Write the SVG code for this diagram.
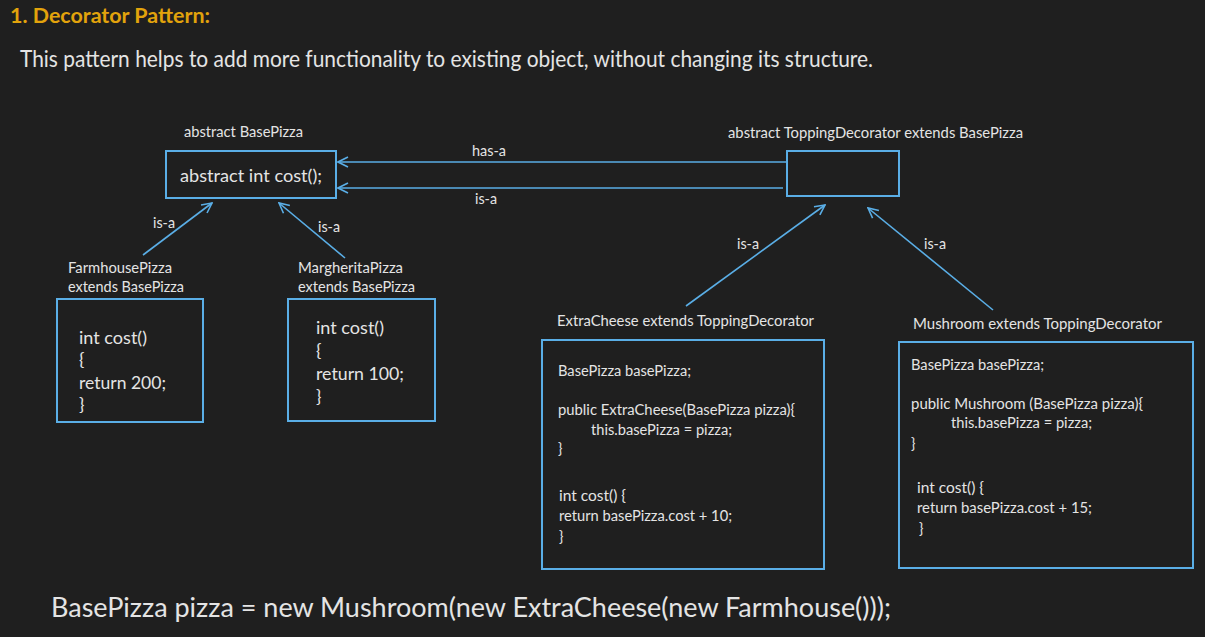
<svg xmlns="http://www.w3.org/2000/svg" width="1205" height="637" viewBox="0 0 1205 637">
<style>
text{font-family:Lato,"Open Sans","Liberation Sans",sans-serif;fill:#e4e4e4}
.title{font-size:21px;font-weight:bold;fill:#e2a30c}
.sub{font-size:23px}
.lbl{font-size:15px}
.code{font-size:18px}
.small{font-size:14.5px}
.box{fill:none;stroke:#5aaee6;stroke-width:2}
.con{fill:none;stroke:#5aaee6;stroke-width:1.6;marker-end:url(#arr)}
.big{font-size:26px}
</style>
<defs>
<marker id="arr" viewBox="0 0 12 12" refX="11" refY="6" markerWidth="12" markerHeight="12" markerUnits="userSpaceOnUse" orient="auto">
<path d="M1,1 L11,6 L1,11" fill="none" stroke="#5aaee6" stroke-width="1.6"/>
</marker>
</defs>
<rect width="1205" height="637" fill="#1f1f1f"/>
<text class="title" x="10" y="23" textLength="200" lengthAdjust="spacingAndGlyphs">1.  Decorator Pattern:</text>
<text class="sub" x="20" y="67" textLength="853" lengthAdjust="spacingAndGlyphs">This pattern helps to add more functionality to existing object, without changing its structure.</text>

<g id="connectors">
<line class="con" x1="787" y1="162" x2="338" y2="162"/>
<line class="con" x1="783" y1="188" x2="338" y2="188"/>
<text class="lbl" x="472" y="156" textLength="34" lengthAdjust="spacingAndGlyphs">has-a</text>
<text class="lbl" x="475" y="204" textLength="22" lengthAdjust="spacingAndGlyphs">is-a</text>
<line class="con" x1="143" y1="255" x2="212" y2="203"/>
<text class="lbl" x="153" y="228" textLength="22" lengthAdjust="spacingAndGlyphs">is-a</text>
<line class="con" x1="345" y1="258" x2="279" y2="203"/>
<text class="lbl" x="318" y="232" textLength="22" lengthAdjust="spacingAndGlyphs">is-a</text>
<line class="con" x1="686" y1="306" x2="825" y2="205"/>
<text class="lbl" x="737" y="249" textLength="22" lengthAdjust="spacingAndGlyphs">is-a</text>
<line class="con" x1="993" y1="310" x2="868" y2="208"/>
<text class="lbl" x="924" y="249" textLength="22" lengthAdjust="spacingAndGlyphs">is-a</text>
</g>

<g id="basepizza">
<text class="lbl" x="184" y="137" textLength="119" lengthAdjust="spacingAndGlyphs">abstract BasePizza</text>
<rect class="box" x="166" y="151" width="170" height="47"/>
<text class="code" x="180" y="182" textLength="142" lengthAdjust="spacingAndGlyphs">abstract int cost();</text>
</g>

<g id="toppingdecorator">
<text class="lbl" x="728" y="138" textLength="295" lengthAdjust="spacingAndGlyphs">abstract ToppingDecorator extends BasePizza</text>
<rect class="box" x="787" y="151" width="112" height="45"/>
</g>

<g id="farmhouse">
<text class="lbl" x="68" y="273" textLength="104" lengthAdjust="spacingAndGlyphs">FarmhousePizza</text>
<text class="lbl" x="68" y="292" textLength="116" lengthAdjust="spacingAndGlyphs">extends BasePizza</text>
<rect class="box" x="57" y="299" width="146" height="123"/>
<text class="code" x="79" y="344" textLength="68" lengthAdjust="spacingAndGlyphs">int cost()</text>
<text class="code" x="79" y="366">{</text>
<text class="code" x="79" y="389" textLength="87" lengthAdjust="spacingAndGlyphs">return 200;</text>
<text class="code" x="79" y="411">}</text>
</g>

<g id="margherita">
<text class="lbl" x="298" y="273" textLength="105" lengthAdjust="spacingAndGlyphs">MargheritaPizza</text>
<text class="lbl" x="298" y="292" textLength="117" lengthAdjust="spacingAndGlyphs">extends BasePizza</text>
<rect class="box" x="288" y="299" width="147" height="122"/>
<text class="code" x="316" y="334" textLength="68" lengthAdjust="spacingAndGlyphs">int cost()</text>
<text class="code" x="316" y="357">{</text>
<text class="code" x="316" y="380" textLength="88" lengthAdjust="spacingAndGlyphs">return 100;</text>
<text class="code" x="316" y="403">}</text>
</g>

<g id="extracheese">
<text class="lbl" x="557" y="326" textLength="257" lengthAdjust="spacingAndGlyphs">ExtraCheese extends ToppingDecorator</text>
<rect class="box" x="542" y="340" width="282" height="229"/>
<text class="small" x="558" y="376" textLength="133" lengthAdjust="spacingAndGlyphs">BasePizza basePizza;</text>
<text class="small" x="558" y="415" textLength="237" lengthAdjust="spacingAndGlyphs">public ExtraCheese(BasePizza pizza){</text>
<text class="small" x="591" y="435" textLength="141" lengthAdjust="spacingAndGlyphs">this.basePizza = pizza;</text>
<text class="small" x="558" y="454">}</text>
<text class="small" x="559" y="501" textLength="67" lengthAdjust="spacingAndGlyphs">int cost() {</text>
<text class="small" x="559" y="521" textLength="173" lengthAdjust="spacingAndGlyphs">return basePizza.cost + 10;</text>
<text class="small" x="559" y="542">}</text>
</g>

<g id="mushroom">
<text class="lbl" x="913" y="329" textLength="249" lengthAdjust="spacingAndGlyphs">Mushroom extends ToppingDecorator</text>
<rect class="box" x="899" y="342" width="294" height="226"/>
<text class="small" x="911" y="370" textLength="133" lengthAdjust="spacingAndGlyphs">BasePizza basePizza;</text>
<text class="small" x="911" y="409" textLength="232" lengthAdjust="spacingAndGlyphs">public Mushroom (BasePizza pizza){</text>
<text class="small" x="951" y="428" textLength="141" lengthAdjust="spacingAndGlyphs">this.basePizza = pizza;</text>
<text class="small" x="911" y="449">}</text>
<text class="small" x="917" y="493" textLength="67" lengthAdjust="spacingAndGlyphs">int cost() {</text>
<text class="small" x="917" y="513" textLength="175" lengthAdjust="spacingAndGlyphs">return basePizza.cost + 15;</text>
<text class="small" x="919" y="534">}</text>
</g>

<text class="big" x="51" y="617" textLength="840" lengthAdjust="spacingAndGlyphs">BasePizza pizza = new Mushroom(new ExtraCheese(new Farmhouse()));</text>
</svg>
